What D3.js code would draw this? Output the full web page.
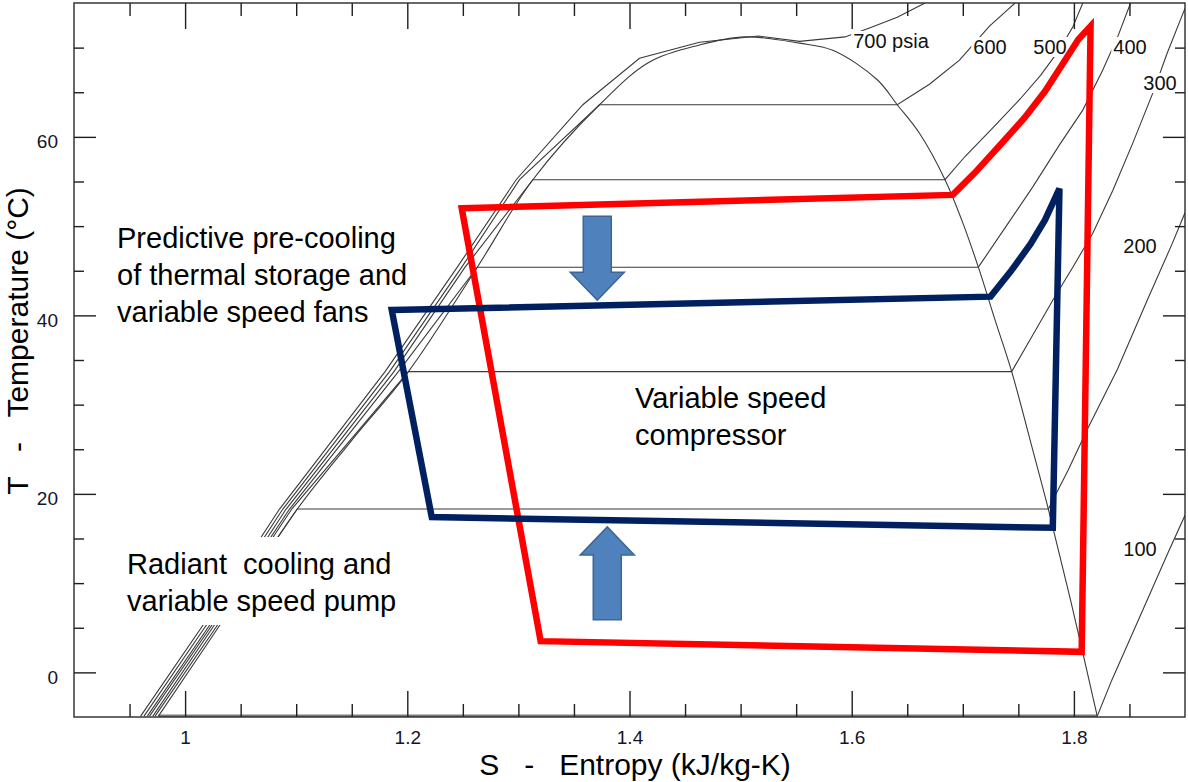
<!DOCTYPE html>
<html>
<head>
<meta charset="utf-8">
<title>T-s diagram with refrigeration cycles</title>
<script src="https://cdn.jsdelivr.net/npm/d3@7"></script>
<style>
  body { margin: 0; background: #fff; }
  svg { display: block; font-family: Arial, "Liberation Sans", sans-serif; }
  .prop-line { fill: none; stroke: #3a3a3a; stroke-width: 1.1; }
  .tick line { stroke: #1e1e1e; stroke-width: 1.4; }
  .tick text { fill: #14142a; font-size: 19px; }
  .domain { display: none; }
  .note { font-size: 29px; fill: #000; white-space: pre; }
  .iso-label { font-size: 20px; fill: #111; }
  .axis-title { font-size: 30px; fill: #000; white-space: pre; }
</style>
</head>
<body>
<svg id="chart" width="1188" height="782"></svg>
<script>
// T-s diagram of a refrigerant with two vapour-compression cycles on top

// axis ticks
const entropyTicks = [1.0, 1.2, 1.4, 1.6, 1.8];
const entropyTickLabels = ["1", "1.2", "1.4", "1.6", "1.8"];
const tempTicks = [0, 20, 40, 60];
const tempTickLabels = ["0", "20", "40", "60"];

// saturation dome, [entropy kJ/kg-K, temperature °C]
const satLiquid = [
    [0.976, -4.9], [1.040, 6.9], [1.101, 18.3], [1.150, 26.0], [1.201, 33.7],
    [1.263, 45.4], [1.313, 55.2], [1.373, 63.6], [1.418, 68.4], [1.463, 70.3],
    [1.504, 71.2]
];
const satVapor = [
    [1.504, 71.2], [1.553, 70.5], [1.583, 69.7], [1.623, 66.4], [1.641, 63.6],
    [1.661, 60.4], [1.684, 55.2], [1.699, 50.7], [1.714, 45.4], [1.729, 39.5],
    [1.744, 33.7], [1.763, 24.9], [1.777, 18.3], [1.797, 8.1], [1.821, -4.9]
];

// isobars: compressed liquid -> two-phase -> superheated
const isobar700 = [
    [0.960, -4.9], [1.025, 6.9], [1.085, 18.3], [1.180, 33.7], [1.245, 45.4],
    [1.298, 55.2], [1.358, 63.6], [1.409, 68.8], [1.463, 70.6], [1.516, 71.3],
    [1.553, 70.7], [1.594, 71.2], [1.616, 72.2], [1.641, 73.4], [1.666, 75.0]
];
const isobar600 = [
    [0.963, -4.9], [1.028, 6.9], [1.088, 18.3], [1.184, 33.7], [1.249, 45.4],
    [1.301, 55.2], [1.373, 63.6], [1.641, 63.6], [1.670, 65.9], [1.697, 68.6],
    [1.724, 72.4], [1.740, 74.2], [1.747, 75.0]
];
const isobar500 = [
    [0.966, -4.9], [1.031, 6.9], [1.091, 18.3], [1.188, 33.7], [1.252, 45.4],
    [1.313, 55.2], [1.684, 55.2], [1.702, 57.8], [1.727, 61.0], [1.752, 64.3],
    [1.770, 66.9], [1.786, 69.6], [1.799, 72.3], [1.808, 75.0]
];
const isobar400 = [
    [0.968, -4.9], [1.033, 6.9], [1.094, 18.3], [1.192, 33.7], [1.263, 45.4],
    [1.714, 45.4], [1.738, 49.8], [1.763, 54.4], [1.787, 59.1], [1.808, 63.0],
    [1.826, 67.5], [1.840, 71.4], [1.851, 75.0]
];
const isobar300 = [
    [0.971, -4.9], [1.035, 6.9], [1.096, 18.3], [1.201, 33.7], [1.744, 33.7],
    [1.763, 37.8], [1.781, 41.7], [1.799, 45.4], [1.817, 49.2], [1.835, 54.0],
    [1.853, 59.3], [1.871, 64.9], [1.884, 69.4], [1.900, 74.4]
];
const isobar200 = [
    [0.973, -4.9], [1.038, 6.9], [1.101, 18.3], [1.777, 18.3], [1.795, 22.7],
    [1.812, 27.2], [1.839, 33.9], [1.866, 41.7], [1.888, 47.9], [1.900, 51.5]
];
const isobar100 = [
    [0.976, -4.9], [1.821, -4.9], [1.834, -0.9], [1.850, 3.6], [1.866, 8.1],
    [1.884, 13.2], [1.900, 17.6]
];
const isobarNames = ["700 psia", "600", "500", "400", "300", "200", "100"];

// cycles
const redCycle = [
    [1.249, 52.0], [1.691, 53.5], [1.711, 56.0], [1.733, 59.0], [1.756, 62.2],
    [1.774, 65.1], [1.790, 68.2], [1.804, 70.9], [1.815, 72.4], [1.807, 2.3],
    [1.320, 3.5]
];
const blueCycle = [
    [1.186, 40.6], [1.725, 42.1], [1.743, 44.9], [1.761, 48.0], [1.774, 50.7],
    [1.787, 54.2], [1.781, 16.2], [1.222, 17.4]
];

// arrows: [entropy, T tail, T tip]
const arrowDown = [1.371, 51.1, 41.7];
const arrowUp = [1.380, 5.9, 16.3];

// annotation text
const noteFans = ["Predictive pre-cooling", "of thermal storage and", "variable speed fans"];
const notePump = ["Radiant  cooling and", "variable speed pump"];
const noteCompressor = ["Variable speed", "compressor"];

const svg = d3.select("#chart");

const x = d3.scaleLinear().domain([0.9, 1.9]).range([74, 1185]);
const y = d3.scaleLinear().domain([-5, 75]).range([717, 3]);

svg.append("defs").append("clipPath").attr("id", "plot-clip")
    .append("rect")
    .attr("x", x(0.9)).attr("y", y(75))
    .attr("width", x(1.9) - x(0.9)).attr("height", y(-5) - y(75));

const line = d3.line().x(d => x(d[0])).y(d => y(d[1]));
const smooth = d3.line().x(d => x(d[0])).y(d => y(d[1])).curve(d3.curveCatmullRom);

const plot = svg.append("g").attr("clip-path", "url(#plot-clip)");

// property lines
const isobars = [isobar700, isobar600, isobar500, isobar400, isobar300, isobar200, isobar100];
plot.selectAll("path.isobar")
    .data(isobars)
    .enter()
    .append("path")
    .attr("class", "prop-line isobar")
    .attr("d", line);

// two-phase line at the bottom runs along the frame, drawn heavier
plot.append("path")
    .attr("d", line([satLiquid[0], satVapor[satVapor.length - 1]]))
    .attr("fill", "none")
    .attr("stroke", "#7a7a7a")
    .attr("stroke-width", 3);

plot.append("path")
    .attr("class", "prop-line")
    .attr("d", smooth(satLiquid.concat(satVapor.slice(1))));

// isobar labels sit on white boxes over the lines
const labelPos = [[891, 41], [990, 47], [1050, 47], [1130, 47], [1160, 83], [1140, 246], [1140, 549]];
const labels = svg.append("g");
isobarNames.forEach((name, i) => {
    const g = labels.append("g");
    const t = g.append("text")
        .attr("class", "iso-label")
        .attr("x", labelPos[i][0])
        .attr("y", labelPos[i][1])
        .attr("dy", "0.35em")
        .attr("text-anchor", "middle")
        .text(name);
    const b = t.node().getBBox();
    g.insert("rect", "text")
        .attr("x", b.x - 2).attr("y", b.y + 1)
        .attr("width", b.width + 4).attr("height", b.height - 2)
        .attr("fill", "#fff");
});

// text notes
function addNote(lines, x0, y0, lineGap, box) {
    const g = svg.append("g");
    if (box) {
        g.append("rect")
            .attr("x", box[0]).attr("y", box[1])
            .attr("width", box[2]).attr("height", box[3])
            .attr("fill", "#fff");
    }
    g.selectAll("text")
        .data(lines)
        .enter()
        .append("text")
        .attr("class", "note")
        .attr("x", x0)
        .attr("y", (d, i) => y0 + i * lineGap)
        .text(d => d);
}
addNote(noteFans, 117, 248, 37, null);
addNote(notePump, 127, 574, 37, [120, 537, 280, 88]);
addNote(noteCompressor, 635, 408, 37, null);

// cycles
const closed = d3.line().x(d => x(d[0])).y(d => y(d[1])).curve(d3.curveLinearClosed);
svg.append("path")
    .attr("d", closed(redCycle))
    .attr("fill", "none")
    .attr("stroke", "#ff0000")
    .attr("stroke-width", 6.5)
    .attr("stroke-linejoin", "miter");
svg.append("path")
    .attr("d", closed(blueCycle))
    .attr("fill", "none")
    .attr("stroke", "#002060")
    .attr("stroke-width", 6.5)
    .attr("stroke-linejoin", "miter");

// block arrows
function arrowPath(a, shaftHalf, headHalf, headLen) {
    const cx = x(a[0]), y0 = y(a[1]), y1 = y(a[2]);
    const dir = Math.sign(y1 - y0);
    const yb = y1 - dir * headLen;
    return `M${cx - shaftHalf},${y0} L${cx + shaftHalf},${y0} L${cx + shaftHalf},${yb} ` +
        `L${cx + headHalf},${yb} L${cx},${y1} L${cx - headHalf},${yb} L${cx - shaftHalf},${yb} Z`;
}
[arrowDown, arrowUp].forEach(a => {
    svg.append("path")
        .attr("d", arrowPath(a, 14, 27, 28))
        .attr("fill", "#4f81bd")
        .attr("stroke", "#3b6595")
        .attr("stroke-width", 1.5);
});

// axes, ticks point into the plot
const sMinor = d3.range(0.95, 1.9, 0.05).filter(v => !entropyTicks.some(m => Math.abs(m - v) < 1e-6));
const tMinor = d3.range(0, 75, 5).filter(v => !tempTicks.includes(v));

svg.append("g")
    .attr("transform", `translate(0,${y(-5)})`)
    .call(d3.axisBottom(x).tickValues(entropyTicks).tickSize(-26).tickPadding(14)
        .tickFormat((d, i) => entropyTickLabels[i]));
svg.append("g")
    .attr("transform", `translate(0,${y(-5)})`)
    .call(d3.axisBottom(x).tickValues(sMinor).tickSize(-13).tickFormat(""));
svg.append("g")
    .attr("transform", `translate(0,${y(75)})`)
    .call(d3.axisTop(x).tickValues(entropyTicks).tickSize(-26).tickFormat(""));
svg.append("g")
    .attr("transform", `translate(0,${y(75)})`)
    .call(d3.axisTop(x).tickValues(sMinor).tickSize(-13).tickFormat(""));

const yAxis = svg.append("g")
    .attr("transform", `translate(${x(0.9)},0)`)
    .call(d3.axisLeft(y).tickValues(tempTicks).tickSize(-22).tickPadding(16)
        .tickFormat((d, i) => tempTickLabels[i]));
yAxis.selectAll("text").attr("y", 5);
svg.append("g")
    .attr("transform", `translate(${x(0.9)},0)`)
    .call(d3.axisLeft(y).tickValues(tMinor).tickSize(-10).tickFormat(""));
svg.append("g")
    .attr("transform", `translate(${x(1.9)},0)`)
    .call(d3.axisRight(y).tickValues(tempTicks).tickSize(-22).tickFormat(""));
svg.append("g")
    .attr("transform", `translate(${x(1.9)},0)`)
    .call(d3.axisRight(y).tickValues(tMinor).tickSize(-10).tickFormat(""));

svg.append("rect")
    .attr("x", x(0.9)).attr("y", y(75))
    .attr("width", x(1.9) - x(0.9)).attr("height", y(-5) - y(75))
    .attr("fill", "none")
    .attr("stroke", "#2a2a2a")
    .attr("stroke-width", 1.4);

// axis titles
svg.append("text")
    .attr("class", "axis-title")
    .attr("x", 635)
    .attr("y", 775)
    .attr("text-anchor", "middle")
    .text("S   -   Entropy (kJ/kg-K)");
svg.append("text")
    .attr("class", "axis-title")
    .attr("transform", "translate(28,341) rotate(-90)")
    .attr("text-anchor", "middle")
    .text("T   -   Temperature (°C)");
</script>
</body>
</html>
